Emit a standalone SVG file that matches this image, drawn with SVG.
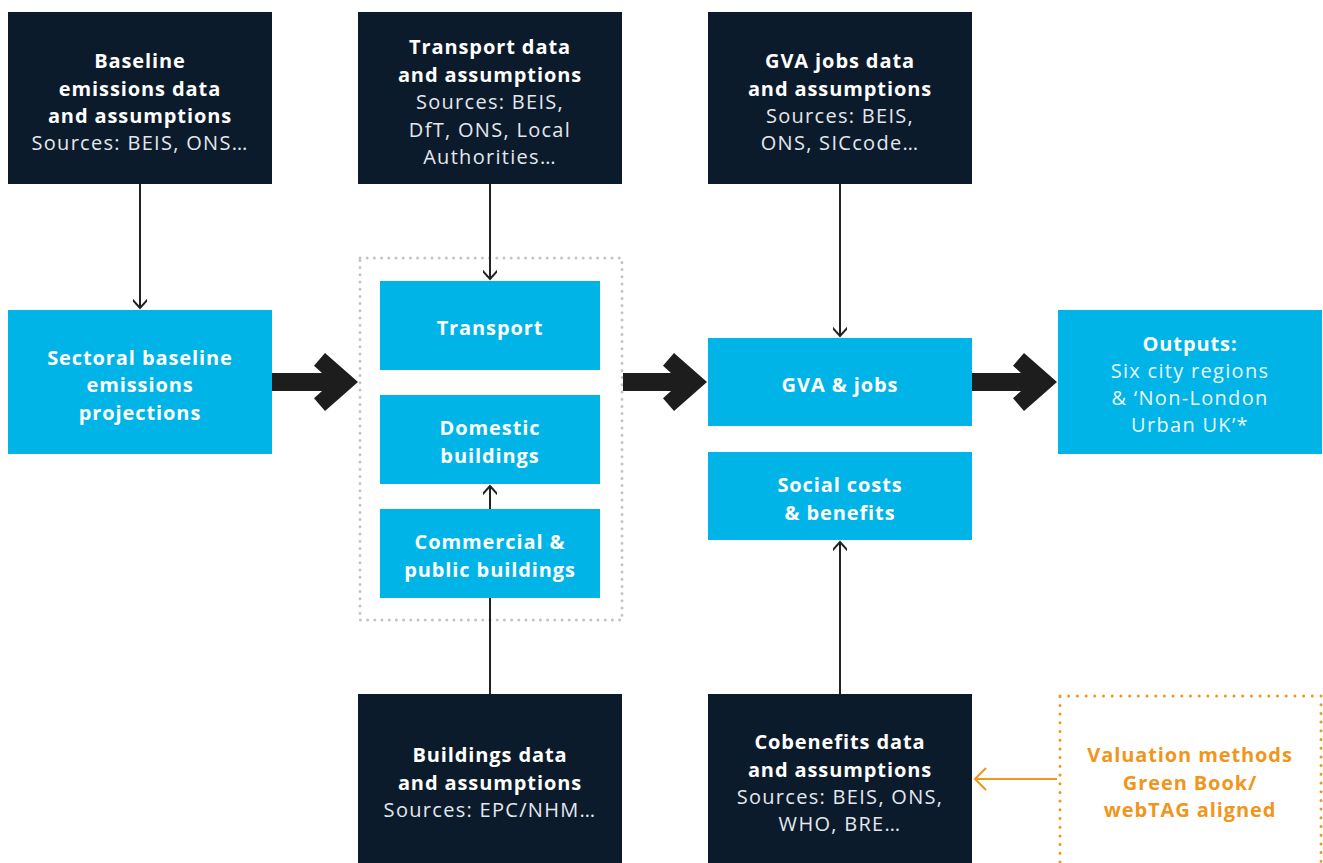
<svg xmlns="http://www.w3.org/2000/svg" width="1323" height="863" viewBox="0 0 1323 863">
<defs>
<style>
.dark{fill:#0c1b2b}
.cyan{fill:#00b4e8}
text{font-family:"Open Sans","Liberation Sans",sans-serif;text-anchor:middle}
.b{font-weight:700;font-size:20px;letter-spacing:0.9px;fill:#ffffff}
.r{font-weight:400;font-size:20px;letter-spacing:1.3px;fill:#e3e8ee}
.rc{font-weight:400;font-size:20px;letter-spacing:1.3px;fill:#eaf7fd}
.o{font-weight:700;font-size:20px;letter-spacing:0.9px;fill:#f0961c}
.thin{stroke:#222;stroke-width:2;fill:none}
.big{fill:#1d1d1d}
</style>
<marker id="ah" markerWidth="14" markerHeight="14" refX="11" refY="7" orient="auto" markerUnits="userSpaceOnUse">
<path d="M1,-2 L11,7 L1,16" fill="none" stroke="#222" stroke-width="2"/>
</marker>
<marker id="aho" markerWidth="14" markerHeight="24" refX="12" refY="12" orient="auto" markerUnits="userSpaceOnUse">
<path d="M1,1 L12,12 L1,23" fill="none" stroke="#f0961c" stroke-width="2"/>
</marker>
</defs>
<rect width="1323" height="863" fill="#ffffff"/>

<g id="group-box">
<rect x="360" y="258" width="262" height="362" fill="none" stroke="#c4c4c4" stroke-width="3" stroke-linecap="round" stroke-dasharray="0 7.2"/>
</g>

<g id="connectors">
<line class="thin" x1="140" y1="184" x2="140" y2="308" marker-end="url(#ah)"/>
<line class="thin" x1="490" y1="184" x2="490" y2="279" marker-end="url(#ah)"/>
<line class="thin" x1="840" y1="184" x2="840" y2="336" marker-end="url(#ah)"/>
<line class="thin" x1="490" y1="509" x2="490" y2="486" marker-end="url(#ah)"/>
<line class="thin" x1="490" y1="694" x2="490" y2="598"/>
<line class="thin" x1="840" y1="694" x2="840" y2="542" marker-end="url(#ah)"/>
<line x1="1057" y1="779" x2="975" y2="779" stroke="#f0961c" stroke-width="2" marker-end="url(#aho)"/>
<polygon class="big" points="272,373 322,373 314,365.8 325,353 358,382 325,411 314,398.2 322,391 272,391"/>
<polygon class="big" transform="translate(349,0)" points="274,373 322,373 314,365.8 325,353 358,382 325,411 314,398.2 322,391 274,391"/>
<polygon class="big" transform="translate(699,0)" points="273,373 322,373 314,365.8 325,353 358,382 325,411 314,398.2 322,391 273,391"/>
</g>

<g id="baseline-data">
<rect class="dark" x="8" y="12" width="264" height="172"/>
<text class="b" x="140" y="68">Baseline</text>
<text class="b" x="140" y="96">emissions data</text>
<text class="b" x="140" y="123">and assumptions</text>
<text class="r" x="140" y="150">Sources: BEIS, ONS…</text>
</g>

<g id="transport-data">
<rect class="dark" x="358" y="12" width="264" height="172"/>
<text class="b" x="490" y="54">Transport data</text>
<text class="b" x="490" y="82">and assumptions</text>
<text class="r" x="490" y="109">Sources: BEIS,</text>
<text class="r" x="490" y="137">DfT, ONS, Local</text>
<text class="r" x="490" y="164">Authorities…</text>
</g>

<g id="gva-data">
<rect class="dark" x="708" y="12" width="264" height="172"/>
<text class="b" x="840" y="68">GVA jobs data</text>
<text class="b" x="840" y="96">and assumptions</text>
<text class="r" x="840" y="123">Sources: BEIS,</text>
<text class="r" x="840" y="150">ONS, SICcode…</text>
</g>

<g id="sectoral">
<rect class="cyan" x="8" y="310" width="264" height="144"/>
<text class="b" x="140" y="365">Sectoral baseline</text>
<text class="b" x="140" y="392">emissions</text>
<text class="b" x="140" y="420">projections</text>
</g>

<g id="transport">
<rect class="cyan" x="380" y="281" width="220" height="89"/>
<text class="b" x="490" y="335">Transport</text>
</g>

<g id="domestic">
<rect class="cyan" x="380" y="395" width="220" height="89"/>
<text class="b" x="490" y="435">Domestic</text>
<text class="b" x="490" y="463">buildings</text>
</g>

<g id="commercial">
<rect class="cyan" x="380" y="509" width="220" height="89"/>
<text class="b" x="490" y="549">Commercial &amp;</text>
<text class="b" x="490" y="577">public buildings</text>
</g>

<g id="gva-jobs">
<rect class="cyan" x="708" y="338" width="264" height="88"/>
<text class="b" x="840" y="392">GVA &amp; jobs</text>
</g>

<g id="social">
<rect class="cyan" x="708" y="452" width="264" height="88"/>
<text class="b" x="840" y="492">Social costs</text>
<text class="b" x="840" y="520">&amp; benefits</text>
</g>

<g id="outputs">
<rect class="cyan" x="1058" y="310" width="264" height="144"/>
<text class="b" x="1190" y="351">Outputs:</text>
<text class="rc" x="1190" y="378">Six city regions</text>
<text class="rc" x="1190" y="405">&amp; ‘Non-London</text>
<text class="rc" x="1190" y="432">Urban UK’*</text>
</g>

<g id="buildings-data">
<rect class="dark" x="358" y="694" width="264" height="169"/>
<text class="b" x="490" y="762">Buildings data</text>
<text class="b" x="490" y="790">and assumptions</text>
<text class="r" x="490" y="817">Sources: EPC/NHM…</text>
</g>

<g id="cobenefits-data">
<rect class="dark" x="708" y="694" width="264" height="169"/>
<text class="b" x="840" y="749">Cobenefits data</text>
<text class="b" x="840" y="777">and assumptions</text>
<text class="r" x="840" y="804">Sources: BEIS, ONS,</text>
<text class="r" x="840" y="831">WHO, BRE…</text>
</g>

<g id="valuation">
<rect x="1060" y="696" width="261" height="170" fill="none" stroke="#f0961c" stroke-width="3" stroke-linecap="round" stroke-dasharray="0 8.7"/>
<text class="o" x="1190" y="762">Valuation methods</text>
<text class="o" x="1190" y="790">Green Book/</text>
<text class="o" x="1190" y="817">webTAG aligned</text>
</g>
</svg>
